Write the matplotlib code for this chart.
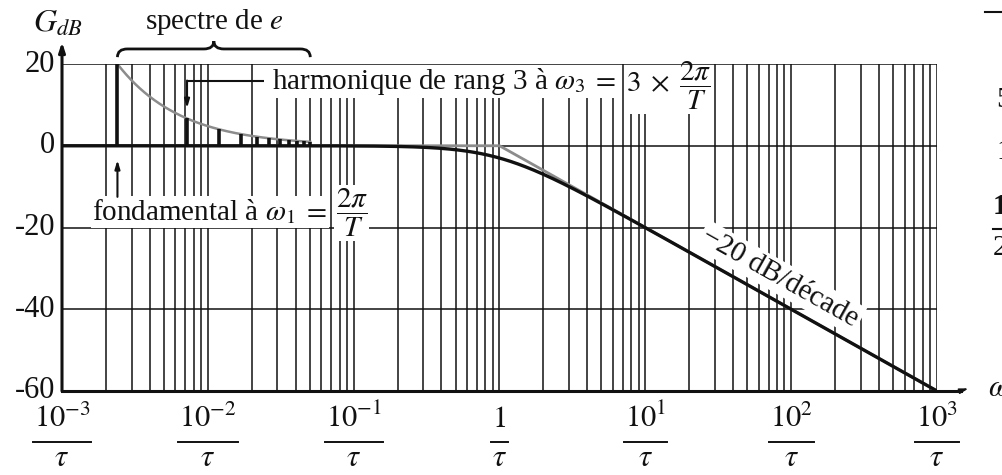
import numpy as np
import matplotlib
matplotlib.use("Agg")
import matplotlib.pyplot as plt
import matplotlib.transforms as mtransforms
from matplotlib.path import Path
from matplotlib.patches import PathPatch
from matplotlib.lines import Line2D

plt.rcParams['font.family'] = ['Liberation Serif', 'DejaVu Serif']
plt.rcParams['mathtext.fontset'] = 'stix'

# ---- axes ranges and ticks (pulsation in units of 1/tau, gain in dB) ----
omega_min, omega_max = 1e-3, 1e3
gain_min, gain_max = -60, 20
gain_ticks = [20, 0, -20, -40, -60]
gain_tick_labels = ['20', '0', '-20', '-40', '-60']
decade_ticks = [1e-3, 1e-2, 1e-1, 1.0, 1e1, 1e2, 1e3]
decade_numerators = [r'$10^{-3}$', r'$10^{-2}$', r'$10^{-1}$', r'$1$',
                     r'$10^{1}$', r'$10^{2}$', r'$10^{3}$']
decade_denominator = r'$\tau$'

# ---- first-order low-pass filter: asymptotes ----
tau = 1.0
asymptote_omega = [1e-3, 1.0, 1e3]
asymptote_gain = [0.0, 0.0, -60.0]

# ---- spectrum of the square wave e (odd harmonics) ----
omega_1 = 2.4e-3
ranks = [1, 3, 5, 7, 9, 11, 13, 15, 17, 19, 21]
line_heights = [20.0, 6.67, 4.0, 2.86, 2.22, 1.82, 1.54, 1.33, 1.18, 1.05, 0.95]

fig = plt.figure(figsize=(10.03, 4.75), dpi=100)
fig.patch.set_facecolor('white')
ax = fig.add_axes([62 / 1003, 84 / 475, 875 / 1003, 327 / 475])
ax.set_xscale('log')
ax.set_xlim(omega_min, omega_max)
ax.set_ylim(gain_min, gain_max)
for s in ax.spines.values():
    s.set_visible(False)
ax.set_xticks([])
ax.set_yticks([])
ax.minorticks_off()

ink = '#111111'

# log grid
grid_omega = [k * 10.0 ** d for d in range(-3, 3) for k in range(1, 10)] + [1e3]
ax.vlines(grid_omega, gain_min, gain_max, colors=ink, lw=1.1, zorder=1)
ax.hlines(gain_ticks[1:-1], omega_min, omega_max, colors=ink, lw=1.1, zorder=1)
ax.hlines([gain_max], omega_min, omega_max, colors=ink, lw=1.1, zorder=6)

# asymptotic diagram and real gain curve
ax.plot(asymptote_omega, asymptote_gain, color='#8c8c8c', lw=2.0, zorder=4,
        solid_capstyle='butt')
w = np.logspace(np.log10(omega_min), np.log10(omega_max), 600)
gain = 20 * np.log10(np.abs(1.0 / (1 + 1j * w * tau)))
ax.plot(w, gain, color=ink, lw=2.4, zorder=5, solid_capstyle='butt')

# spectrum lines and their envelope
omega_h = [n * omega_1 for n in ranks]
ax.vlines(omega_h, 0, line_heights, colors=ink, lw=2.6, zorder=5)
w_env = np.logspace(np.log10(omega_h[0]), np.log10(omega_h[-1]), 300)
ax.plot(w_env, line_heights[0] * omega_h[0] / w_env, color='#8c8c8c', lw=1.8, zorder=4)

# axes arrows
ax.annotate('', xy=(0, 1.067), xytext=(0, 0), xycoords='axes fraction',
            arrowprops=dict(arrowstyle='-|>,head_length=0.55,head_width=0.18',
                            lw=2.2, color=ink, shrinkA=0, shrinkB=0), zorder=7)
ax.add_line(Line2D([0, 1.027], [0, 0], transform=ax.transAxes, color=ink, lw=2.2,
                   clip_on=False, zorder=7))
ax.annotate('', xy=(1.036, 0.008), xytext=(1.026, 0.0), xycoords='axes fraction',
            arrowprops=dict(arrowstyle='-|>,head_length=0.5,head_width=0.15',
                            lw=1.2, color=ink, shrinkA=0, shrinkB=0))

# gain tick labels
ylab_tr = mtransforms.blended_transform_factory(ax.transAxes, ax.transData)
for g, lab in zip(gain_ticks, gain_tick_labels):
    ax.text(-0.008, g, lab, transform=ylab_tr, ha='right', va='center',
            fontsize=22, color=ink)

# pulsation tick labels written as fractions over tau
xlab_tr = mtransforms.blended_transform_factory(ax.transData, ax.transAxes)
numerator_texts = []
for x, num in zip(decade_ticks, decade_numerators):
    numerator_texts.append(ax.text(x, -0.110, num, transform=xlab_tr, ha='center',
                                   va='baseline', fontsize=22, color=ink))
    ax.text(x, -0.207, decade_denominator, transform=xlab_tr, ha='center',
            va='center', fontsize=22, color=ink)

# axis titles
ax.text(-0.005, 1.122, r'$G_{dB}$', transform=ax.transAxes, ha='center',
        va='center', fontsize=23, color=ink)
fig.text(988 / 1003, 1 - 388 / 475, r'$\omega$', ha='left', va='center',
         fontsize=22, color=ink)

# brace over the spectrum
to_axes = ax.transData + ax.transAxes.inverted()
xa = to_axes.transform((omega_h[0], 0))[0]
xb = to_axes.transform((omega_h[-1], 0))[0]
xm = 0.5 * (xa + xb)
dx = 10 / 875
y_tip, y_mid, y_peak = 1.021, 1.046, 1.070
verts = [(xa, y_tip), (xa, y_mid), (xa + dx, y_mid),
         (xm - dx, y_mid), (xm, y_mid), (xm, y_peak),
         (xm, y_mid), (xm + dx, y_mid),
         (xb - dx, y_mid), (xb, y_mid), (xb, y_tip)]
codes = [Path.MOVETO, Path.CURVE3, Path.CURVE3,
         Path.LINETO, Path.CURVE3, Path.CURVE3,
         Path.CURVE3, Path.CURVE3,
         Path.LINETO, Path.CURVE3, Path.CURVE3]
ax.add_patch(PathPatch(Path(verts, codes), transform=ax.transAxes, fc='none',
                       ec=ink, lw=2.0, clip_on=False))
ax.text(xm, 1.128, r'spectre de $e$', transform=ax.transAxes, ha='center',
        va='center', fontsize=21, color=ink)

box = dict(boxstyle='square,pad=0.06', fc='white', ec='none')

# harmonic of rank 3
ax.text(0.24, 0.948, r'harmonique de rang 3 à $\omega_3\; =$', transform=ax.transAxes,
        ha='left', va='center', fontsize=21, color=ink, bbox=box, zorder=3)
ax.text(0.645, 0.933, r'$3 \;\times\; \dfrac{2\pi}{T}$', transform=ax.transAxes,
        ha='left', va='center', fontsize=21, color=ink, bbox=box, zorder=3)
y_lead = 15.8
ax.plot([0.0243, omega_h[1]], [y_lead, y_lead], color=ink, lw=1.5, zorder=5,
        solid_capstyle='butt')
ax.annotate('', xy=(omega_h[1], 9.2), xytext=(omega_h[1], y_lead + 0.15),
            arrowprops=dict(arrowstyle='-|>,head_length=0.5,head_width=0.15',
                            lw=1.5, color=ink, shrinkA=0, shrinkB=0), zorder=5)

# fundamental
ax.text(0.0347, 0.548, r'fondamental à $\omega_1\; =$', transform=ax.transAxes,
        ha='left', va='center', fontsize=21, color=ink, bbox=box, zorder=3)
ax.text(0.331, 0.544, r'$\dfrac{2\pi}{T}$', transform=ax.transAxes,
        ha='center', va='center', fontsize=21, color=ink, bbox=box, zorder=3)
ax.annotate('', xy=(omega_h[0], -3.5), xytext=(omega_h[0], -12.5),
            arrowprops=dict(arrowstyle='-|>,head_length=0.5,head_width=0.15',
                            lw=1.5, color=ink, shrinkA=0, shrinkB=0), zorder=5)

# slope label
ax.text(0.821, 0.346, '−20 dB/décade', transform=ax.transAxes, ha='center',
        va='center', rotation=-29.3, rotation_mode='anchor', fontsize=21,
        color=ink, bbox=dict(boxstyle='square,pad=0.1', fc='white', ec='none'),
        zorder=3)

# neighbouring page content at the right edge
fig.add_artist(Line2D([985 / 1003, 1.0], [1 - 12 / 475] * 2, color=ink, lw=1.5))
fig.text(996 / 1003, 1 - 100 / 475, '5', ha='left', va='center', fontsize=21, color=ink)
fig.text(996 / 1003, 1 - 152 / 475, '1', ha='left', va='center', fontsize=21, color=ink)
fig.text(993 / 1003, 1 - 207 / 475, '1', ha='left', va='center', fontsize=21,
         fontweight='bold', color=ink)
fig.add_artist(Line2D([993 / 1003, 1.0], [1 - 229 / 475] * 2, color=ink, lw=1.5))
fig.text(993 / 1003, 1 - 248 / 475, '2', ha='left', va='center', fontsize=21, color=ink)

# fraction bars sized to each numerator
fig.canvas.draw()
renderer = fig.canvas.get_renderer()
inv = ax.transAxes.inverted()
for t in numerator_texts:
    bb = t.get_window_extent(renderer)
    x0 = inv.transform((bb.x0 - 1, 0))[0]
    x1 = inv.transform((bb.x1 + 1, 0))[0]
    ax.add_line(Line2D([x0, x1], [-0.156, -0.156], transform=ax.transAxes,
                       color=ink, lw=1.4, clip_on=False))

fig.savefig('out.png', dpi=100, facecolor='white')
